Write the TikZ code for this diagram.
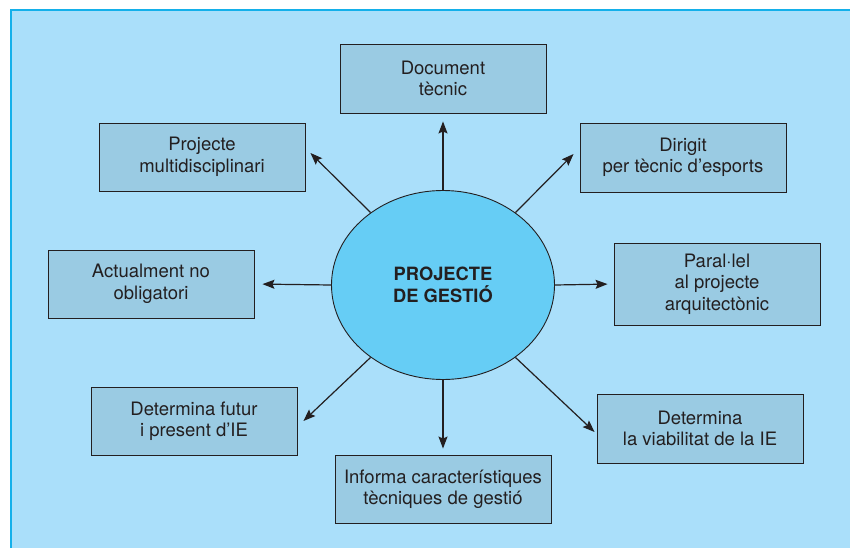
\documentclass[tikz,border=0pt]{standalone}
\usepackage{fontspec}
\setmainfont{TeX Gyre Heros}
\usetikzlibrary{shapes.geometric,arrows.meta,calc}
\definecolor{bgblue}{RGB}{170,223,250}
\definecolor{edgeblue}{RGB}{20,176,234}
\definecolor{boxblue}{RGB}{154,203,227}
\definecolor{ellblue}{RGB}{102,205,245}
\definecolor{ink}{RGB}{35,31,32}
\tikzset{
  infobox/.style={draw=ink, line width=0.9pt, fill=boxblue, minimum width=206pt, minimum height=68pt,
    inner sep=0pt, align=center, text=ink, font=\fontsize{18.5}{21.5}\selectfont},
  centre/.style={draw=ink, line width=0.9pt, fill=ellblue, ellipse, minimum width=223pt, minimum height=189pt,
    inner sep=0pt, align=center, text=ink, font=\fontsize{18.3}{22.5}\selectfont\bfseries},
  link/.style={draw=ink, line width=1.2pt, -{Stealth[length=12pt,width=9pt,inset=2pt]}}
}
\begin{document}
\begin{tikzpicture}[x=1pt,y=1pt]
\useasboundingbox (0,0) rectangle (850,-548);
\fill[bgblue] (11,-10) rectangle (850,-548);
\draw[edgeblue, line width=2.6pt] (11,-548) -- (11,-10) -- (850,-10);

\node[centre] (ell) at (443,-285) {PROJECTE\\DE GESTIÓ};

\node[infobox, minimum height=69pt] (m2) at (443,-78.5) {Document\\tècnic};
\node[infobox] (m1) at (202,-157) {Projecte\\multidisciplinari};
\node[infobox, minimum height=69pt] (m3) at (683,-157.5) {Dirigit\\per tècnic d’esports};
\node[infobox] (m4) at (151,-284) {Actualment no\\obligatori};
\node[infobox, minimum height=82pt] (m5) at (717,-284) {Paral·lel\\al projecte\\arquitectònic};
\node[infobox] (m6) at (194,-421) {Determina futur\\i present d’IE};
\node[infobox, minimum height=69pt] (m7) at (700,-428.5) {Determina\\la viabilitat de la IE};
\node[infobox, minimum width=216pt] (m8) at (443,-489) {Informa característiques\\tècniques de gestió};

\draw[link, shorten >=8pt] (ell.north) -- (m2.south);
\draw[link, shorten >=6pt] (ell.south) -- (m8.north);
\draw[link, shorten >=8pt] (ell.west) -- (m4.east);
\draw[link, shorten >=6pt] (ell.east) -- (m5.west);
\draw[link] (ell.135) -- ($(m1.east)+(5,4)$);
\draw[link] (ell.45) -- ($(m3.west)+(-6,3.5)$);
\draw[link] (ell.225) -- ($(m6.east)+(6,0)$);
\draw[link] (ell.315) -- ($(m7.west)+(-2,-3.5)$);
\end{tikzpicture}
\end{document}
